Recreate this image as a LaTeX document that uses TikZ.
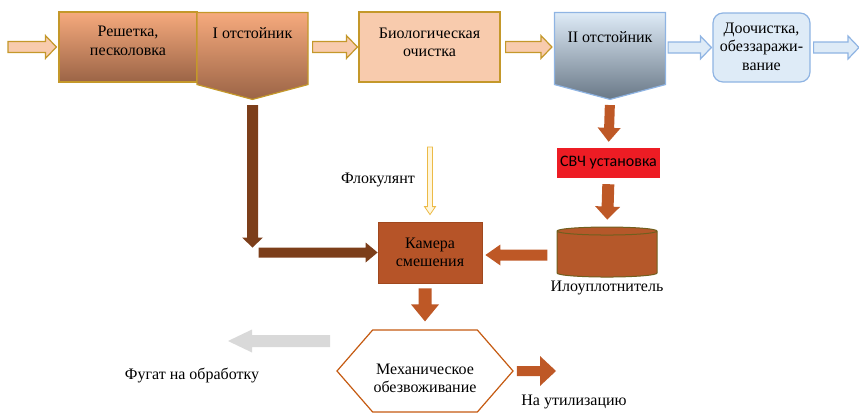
\documentclass[tikz,border=0pt]{standalone}
\usepackage{fontspec}
\setmainfont{Liberation Serif}
\newfontfamily\svchfont{Carlito}
\usetikzlibrary{calc,shapes.symbols,shapes.geometric}

\definecolor{peachfill}{RGB}{248,203,173}
\definecolor{goldline}{RGB}{196,152,42}
\definecolor{boxtop}{RGB}{246,170,125}
\definecolor{boxbot}{RGB}{155,100,70}
\definecolor{IItop}{RGB}{222,235,247}
\definecolor{IIbot}{RGB}{105,120,135}
\definecolor{bluefill}{RGB}{222,235,247}
\definecolor{blueline}{RGB}{143,180,227}
\definecolor{darkbrown}{RGB}{124,62,26}
\definecolor{rust}{RGB}{190,88,38}
\definecolor{kamfill}{RGB}{182,84,40}
\definecolor{kamline}{RGB}{160,72,30}
\definecolor{svred}{RGB}{237,28,36}
\definecolor{cylfill}{RGB}{181,88,42}
\definecolor{cylline}{RGB}{112,95,30}
\definecolor{greyar}{RGB}{217,217,217}
\definecolor{hexline}{RGB}{197,90,17}
\definecolor{flocline}{RGB}{236,186,70}
\definecolor{flocfill}{RGB}{255,246,220}

\tikzset{
  bashaft/.store in=\bashaft,
  bahead/.store in=\bahead,
  balen/.store in=\balen,
  bas/.store in=\bas,
  bae/.store in=\bae,
  bashaft=5.5pt,bahead=11.5pt,balen=11pt,bas=0pt,bae=0pt,
  blockarrow/.style={to path={
    ($(\tikztostart)!\bas!(\tikztotarget)!\bashaft!90:(\tikztotarget)$)
    -- ($(\tikztotarget)!{\bae+\balen}!(\tikztostart)!\bashaft!-90:(\tikztostart)$)
    -- ($(\tikztotarget)!{\bae+\balen}!(\tikztostart)!\bahead!-90:(\tikztostart)$)
    -- ($(\tikztotarget)!\bae!(\tikztostart)$)
    -- ($(\tikztotarget)!{\bae+\balen}!(\tikztostart)!\bahead!90:(\tikztostart)$)
    -- ($(\tikztotarget)!{\bae+\balen}!(\tikztostart)!\bashaft!90:(\tikztostart)$)
    -- ($(\tikztostart)!\bas!(\tikztotarget)!\bashaft!-90:(\tikztotarget)$)
    -- cycle}}
}

\begin{document}
\begin{tikzpicture}[x=1pt,y=-1pt,font=\fontsize{16}{18.5}\selectfont,
  every label/.style={align=center},
  brownbox/.style={draw=goldline,line width=1.2pt,top color=boxtop,bottom color=boxbot},
  settler/.style={signal,signal to=south,signal pointer angle=150,line width=1.2pt,minimum width=111,minimum height=73},
  peachar/.style={blockarrow,fill=peachfill,draw=goldline,line width=1.2pt},
  bluear/.style={blockarrow,fill=bluefill,draw=blueline,line width=1.2pt},
  darkar/.style={blockarrow,fill=darkbrown},
  rustar/.style={blockarrow,fill=rust},
  flocar/.style={blockarrow,fill=flocfill,draw=flocline,line width=0.8pt,bashaft=2.5pt,bahead=5.5pt,balen=8pt}]

\useasboundingbox (0,0) rectangle (859,415);

\node[brownbox,minimum width=138,minimum height=70,label={[yshift=6]center:Решетка,\\песколовка}](resh) at (128,47){};
\node[settler,brownbox,label={[yshift=15.5]center:I отстойник}](ot1) at (252.5,48.5){};
\node[draw=goldline,line width=1.2pt,fill=peachfill,minimum width=141,minimum height=70,label={[yshift=4.5]center:Биологическая\\очистка}](bio) at (429.5,47){};
\node[settler,draw=blueline,top color=IItop,bottom color=IIbot,label={[yshift=11.5]center:II отстойник}](ot2) at (610,48.5){};
\node[draw=blueline,line width=1.2pt,fill=bluefill,rounded corners=10,minimum width=97,minimum height=69,label={[yshift=1]center:Доочистка,\\обеззаражи-\\вание}](doo) at (761.5,47.5){};

\node[fill=kamfill,draw=kamline,line width=0.8pt,minimum width=104,minimum height=61,align=center](kam) at (430,252.5){Камера\\смешения};
\node[fill=svred,inner xsep=2,minimum width=103,minimum height=30,font=\svchfont\fontsize{16}{18}\selectfont](svch) at (608.5,163){СВЧ установка};
\node[cylinder,shape border rotate=90,aspect=1.2,draw=cylline,fill=cylfill,line width=1pt,minimum width=100,minimum height=50,label={[label distance=0]below:Илоуплотнитель}](cyl) at (607,255){};
\node[signal,signal to=east and west,signal pointer angle=98,draw=hexline,line width=1.2pt,fill=white,minimum width=176,minimum height=82,label={[yshift=-7.5]center:Механическое\\обезвоживание}](hex) at (425,371){};

\node(flocl) at (378,180){Флокулянт};
\node(fugl) at (192,375){Фугат на обработку};
\node(utill) at (574,402){На утилизацию};

\coordinate(in) at (8,47);
\coordinate(out) at (859,47.5);
\coordinate(bend) at (ot1.south |- kam.west);
\coordinate(floc) at (430,147);
\coordinate(fug) at (330,341);
\coordinate(fugtip) at (228,341);
\coordinate(util) at (556,371);

\draw[peachar,bae=2pt](in) to (resh.west);
\draw[peachar,bas=4pt,bae=1pt](ot1.east |- resh.east) to (bio.west);
\draw[peachar,bas=5pt,bae=2pt](bio.east) to (ot2.west |- bio.east);
\draw[bluear,bas=2pt,bae=1pt](ot2.east |- doo.west) to (doo.west);
\draw[bluear,bas=3pt](doo.east) to (out);
\path[darkar,bas=5pt,bae=5pt,bahead=10.5pt,balen=10pt](ot1.south) to (bend);
\path[darkar,bas=6pt,bashaft=5pt,bahead=10pt,balen=12pt](bend) to (kam.west);
\draw[flocar,bae=7pt](floc) to (kam.north);
\path[rustar,bas=5pt,bae=6pt,bashaft=5pt,bahead=11.5pt,balen=14pt](ot2.south) to (svch.north);
\path[rustar,bas=6pt,bae=7pt,bashaft=6pt,bahead=12.5pt,balen=13pt](svch.south) to (cyl.north);
\path[rustar,bas=9pt,bae=3pt,bahead=10.5pt,balen=15pt](cyl.west) to (kam.east |- cyl.west);
\path[rustar,bas=5pt,bae=8pt,bashaft=6.5pt,bahead=14pt,balen=17pt](kam.south -| hex.north) to (hex.north);
\path[blockarrow,fill=greyar,bashaft=6pt,bahead=11.5pt,balen=24pt](fug) to (fugtip);
\path[rustar,bas=3pt,bashaft=5pt,bahead=15pt,balen=16pt](hex.east) to (util);

\end{tikzpicture}
\end{document}
